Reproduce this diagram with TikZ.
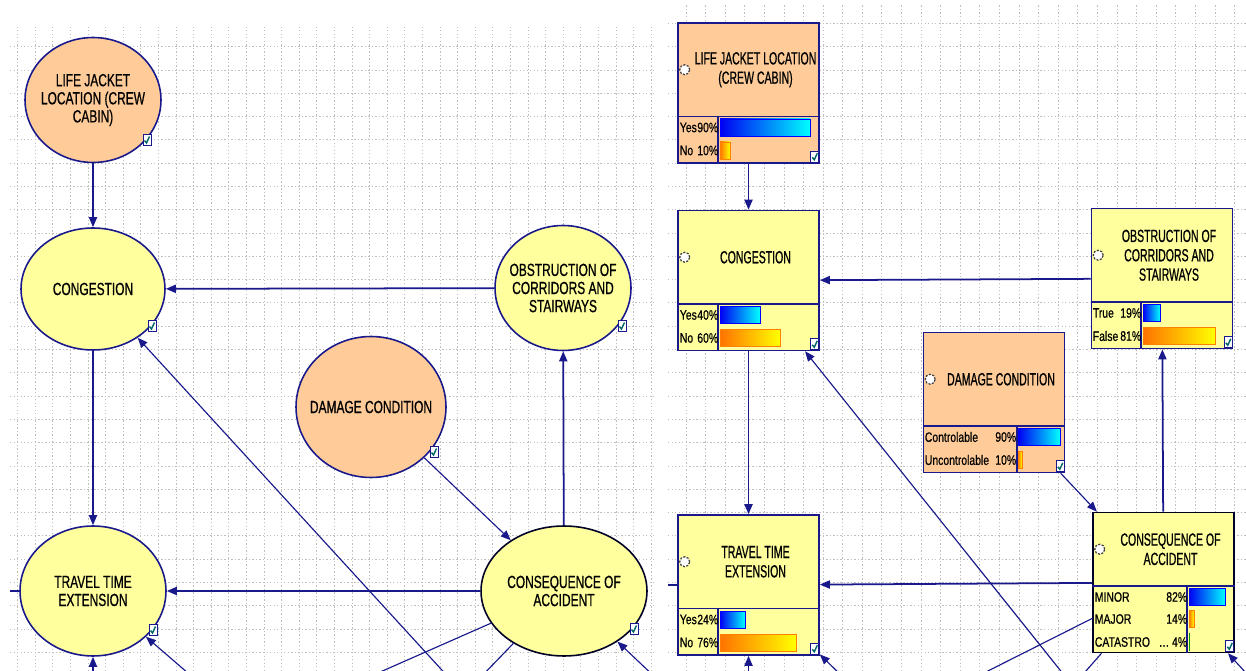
\documentclass[tikz,border=0pt]{standalone}
\usepackage{fontspec}
\setmainfont{Liberation Sans}[FakeStretch=0.68,FakeBold=0.7]
\newfontfamily\slimfont{Liberation Sans}[FakeStretch=0.6,FakeBold=0.7]
\newfontfamily\statefont{Liberation Sans}[FakeStretch=0.76,FakeBold=0.6]
\usetikzlibrary{arrows.meta,shapes.geometric}
\definecolor{nodeyel}{RGB}{255,255,158}
\definecolor{nodepch}{RGB}{255,204,153}
\definecolor{netnavy}{RGB}{25,25,140}
\tikzset{
  gridln/.style ={draw=black!25,dash pattern=on 0.8pt off 1.2pt,line width=0.4pt},
  bnell/.style  ={ellipse,draw=netnavy,line width=0.9pt,inner sep=-5mm,align=center,
                  font=\fontsize{10}{10.3}\selectfont},
  bnbox/.style  ={rectangle,draw=netnavy,line width=0.9pt,minimum width=2.82cm,
                  minimum height=2.8cm,inner sep=0pt},
  yel/.style    ={fill=nodeyel},
  pch/.style    ={fill=nodepch},
  sel/.style    ={draw=black!85!blue},
  divl/.style   ={draw=netnavy,line width=0.9pt},
  rttl/.style   ={align=center,inner sep=1pt,font=\slimfont\fontsize{10}{11}\selectfont},
  stl/.style    ={inner sep=0pt,font=\statefont\fontsize{7.8}{9}\selectfont},
  hi/.style     ={left color=blue!95!black,right color=cyan,draw=blue},
  lo/.style     ={left color=orange!90!red,right color=yellow,draw=orange},
  gr/.style     ={left color=green!60!black,right color=green!60!black,draw=green!60!black,
                  line width=0.3pt},
  radio/.style  ={draw=black!75,fill=white,dash pattern=on 1.2pt off 0.8pt,line width=0.7pt},
  flow/.style   ={-{Triangle[length=2mm,width=1.6mm]},draw=netnavy,line width=1pt},
  flowt/.style  ={flow,line width=0.65pt},
  wire/.style   ={draw=netnavy,line width=0.65pt},
  chk/.pic      ={\draw[draw=netnavy,fill=white,line width=0.5pt] (-4,-5.5) rectangle (4,5.5);
                  \draw[teal!80!black,line width=0.8pt] (-2.5,0.5) -- (-0.5,3) -- (2.5,-3.5);},
}

\begin{document}
\begin{tikzpicture}[x=0.02cm,y=-0.02cm]
  \useasboundingbox (0,0) rectangle (1246,671);
  \fill[white] (0,0) rectangle (1246,671);

  % left view: ellipses
  \begin{scope}
  \clip (10,25) rectangle (655,671);
  \draw[gridln,xstep=0.352cm,ystep=0.466cm] (10,671) grid (655,25);

  \node[bnell,pch,minimum width=2.72cm,minimum height=2.5cm] (lifeL) at (93,100)
    {LIFE JACKET\\LOCATION (CREW\\CABIN)};
  \node[bnell,yel,minimum width=2.88cm,minimum height=2.44cm] (congL) at (93,289) {CONGESTION};
  \node[bnell,yel,minimum width=2.72cm,minimum height=2.5cm] (obstL) at (563,288)
    {OBSTRUCTION OF\\CORRIDORS AND\\STAIRWAYS};
  \node[bnell,pch,minimum width=3.0cm,minimum height=2.82cm] (damL) at (371,407) {DAMAGE CONDITION};
  \node[bnell,yel,minimum width=2.92cm,minimum height=2.6cm] (travL) at (93,591)
    {TRAVEL TIME\\EXTENSION};
  \node[bnell,yel,sel,minimum width=3.32cm,minimum height=2.6cm] (consL) at (564,591)
    {CONSEQUENCE OF\\ACCIDENT};

  \foreach \bx/\dx/\dy in {lifeL/54/40,congL/59/37,obstL/59/38,damL/63/45,travL/60/39,consL/70/38}
    \pic at ([shift={(\dx,\dy)}]\bx.center) {chk};

  \coordinate (offL1) at (451,680);
  \coordinate (offL2) at (93,680);
  \coordinate (offL3) at (196,680);
  \coordinate (offL4) at (362,680);
  \coordinate (offL5) at (478,680);
  \coordinate (offL6) at (658,680);
  \coordinate (offL7) at (0,591);

  \draw[flow] (lifeL) -- (congL);
  \draw[flow] (obstL) -- (congL);
  \draw[flow] (congL) -- (travL);
  \draw[flow] (consL) -- (obstL);
  \draw[flow] (consL) -- (travL);
  \draw[flowt] (damL) -- (consL);
  \draw[flowt] (offL1) -- (congL);
  \draw[flow] (offL2) -- (travL);
  \draw[flowt] (offL3) -- (travL);
  \draw[wire] (consL) -- (offL4);
  \draw[wire] (consL) -- (offL5);
  \draw[flowt] (offL6) -- (consL);
  \draw[wire] (travL) -- (offL7);
  \end{scope}

  % right view: boxes with beliefs
  \begin{scope}
  \clip (668,5) rectangle (1246,671);
  \draw[gridln,xstep=0.392cm,ystep=0.466cm] (668,671) grid (1246,5);

  \node[bnbox,pch] (lifeR) at (748.5,93) {};
  \node[bnbox,yel] (congR) at (748.5,280.5) {};
  \node[bnbox,yel] (obstR) at (1162,278.5) {};
  \node[bnbox,pch] (damR) at (994,402.5) {};
  \node[bnbox,yel] (travR) at (748.5,585) {};
  \node[bnbox,yel,sel] (consR) at (1163.5,582.5) {};

  \foreach \bx/\dy/\cw/\tx in {
      lifeR/23.5/41/{LIFE JACKET LOCATION\\(CREW CABIN)},
      congR/23.5/41/{CONGESTION},
      obstR/23.5/50.5/{OBSTRUCTION OF\\CORRIDORS AND\\STAIRWAYS},
      damR/23.5/94/{DAMAGE CONDITION},
      travR/23.5/41/{TRAVEL TIME\\EXTENSION},
      consR/3.5/95/{CONSEQUENCE OF\\ACCIDENT}}{
    \draw[divl] ([shift={(0,\dy)}]\bx.west) -- ([shift={(0,\dy)}]\bx.east);
    \draw[divl] ([shift={(\cw,\dy)}]\bx.west) -- ([shift={(\cw,0)}]\bx.south west);
    \node[rttl] (\bx-t) at ([shift={(7,{(\dy-70)/2})}]\bx.center) {\tx};
    \draw[radio] ([shift={(7.5,{(\dy-70)/2})}]\bx.west) circle[radius=0.1cm];
    \pic at ([shift={(-5,-7)}]\bx.south east) {chk};
  }

  \foreach \bx/\lx/\cx/\yc/\lab/\pct/\len/\kind [count=\k] in {
      lifeR/678/719/127.5/Yes/90/90/hi, lifeR/678/719/150.5/No/10/10/lo,
      congR/678/719/315/Yes/40/40/hi, congR/678/719/338/No/60/60/lo,
      obstR/1091/1142/313/True/19/17/hi, obstR/1091/1142/336/False/81/72/lo,
      damR/923/1017/437/Controlable/90/42/hi, damR/923/1017/460/Uncontrolable/10/4/lo,
      travR/678/719/619.5/Yes/24/25/hi, travR/678/719/642.5/No/76/76/lo,
      consR/1093/1188/597/MINOR/82/36/hi, consR/1093/1188/619/MAJOR/14/5/lo,
      consR/1093/1188/642/CATASTRO/{\ldots\ 4}/0.6/gr}{
    \node[stl,anchor=west] (\bx-l\k) at (\lx+1.5,\yc) {\lab};
    \node[stl,anchor=east] (\bx-p\k) at (\cx-0.5,\yc) {\pct\%};
    \shadedraw[\kind] (\cx+1,\yc-8.5) rectangle ++(\len,17);
  }

  \coordinate (offR1) at (1068,680);
  \coordinate (offR2) at (748.5,680);
  \coordinate (offR3) at (846,680);
  \coordinate (offR4) at (970,680);
  \coordinate (offR5) at (1078,680);
  \coordinate (offR6) at (1256,684);
  \coordinate (offR7) at (650,585);

  \draw[flow] (lifeR) -- (congR);
  \draw[flow] (obstR) -- (congR);
  \draw[flow] (congR) -- (travR);
  \draw[flow] (consR) -- (obstR);
  \draw[flow] (consR) -- (travR);
  \draw[flowt] (damR) -- (consR);
  \draw[flowt] (offR1) -- (congR);
  \draw[flow] (offR2) -- (travR);
  \draw[flowt] (offR3) -- (travR);
  \draw[wire] (consR) -- (offR4);
  \draw[wire] (consR) -- (offR5);
  \draw[flowt] (offR6) -- (consR);
  \draw[wire] (travR) -- (offR7);
  \end{scope}
\end{tikzpicture}
\end{document}
